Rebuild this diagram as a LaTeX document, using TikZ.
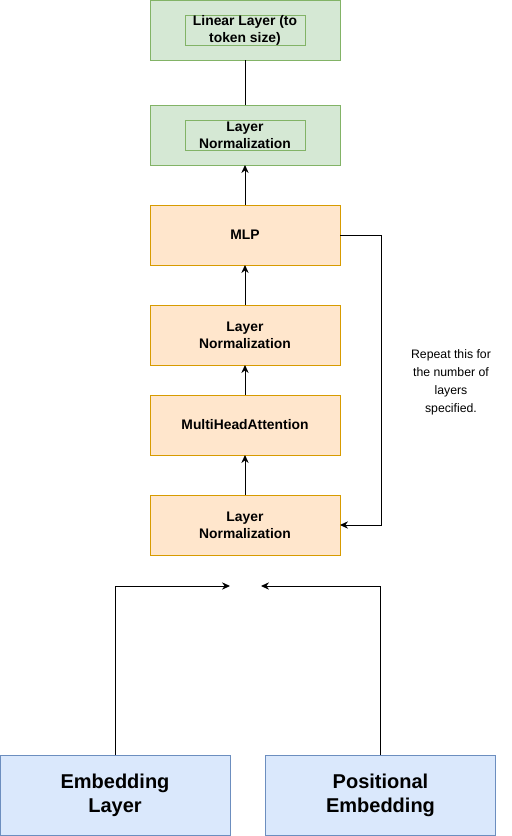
\documentclass[tikz,border=0pt]{standalone}
\usepackage{fontspec}
\setmainfont{Liberation Sans}
\usetikzlibrary{arrows.meta}
\usetikzlibrary{positioning}

\definecolor{greenfill}{HTML}{D5E8D4}
\definecolor{greenline}{HTML}{82B366}
\definecolor{orangefill}{HTML}{FFE6CC}
\definecolor{orangeline}{HTML}{D79B00}
\definecolor{bluefill}{HTML}{DAE8FC}
\definecolor{blueline}{HTML}{6C8EBF}

\tikzset{
    layer/.style={draw, line width=0.75pt, outer sep=0pt, minimum width=142.5pt, minimum height=45pt,
        align=center, font=\bfseries\fontsize{10.4}{12.75}\selectfont},
    orangebox/.style={layer, fill=orangefill, draw=orangeline},
    greenbox/.style={layer, fill=greenfill, draw=greenline},
    innerbox/.style={draw=greenline, line width=0.75pt, minimum width=90pt, minimum height=22.5pt,
        inner sep=0pt, align=center, font=\bfseries\fontsize{10.4}{12.75}\selectfont},
    inputbox/.style={draw=blueline, fill=bluefill, line width=0.75pt, minimum width=172.5pt,
        minimum height=60pt, align=center, font=\bfseries\fontsize{15}{18}\selectfont}
}

\begin{document}
\begin{tikzpicture}[x=0.75pt, y=-0.75pt, line width=0.75pt, node distance=30pt,
    >={Stealth[length=6pt, width=5.5pt]}]

    \useasboundingbox (0,0) rectangle (511,836);

    \node[orangebox] (ln_1) at (245,525) {Layer\\Normalization};
    \node[orangebox] (mha) [above = of ln_1] {MultiHeadAttention};
    \node[orangebox] (ln_2) [above = 22.5pt of mha] {Layer\\Normalization};
    \node[orangebox] (mlp) [above = of ln_2] {MLP};
    \node[greenbox] (ln_3) [above = of mlp] {};
    \node[innerbox] (ln_3_in) at (ln_3) {Layer\\Normalization};
    \node[greenbox] (lin) [above = 33.75pt of ln_3] {};
    \node[innerbox] (lin_in) at (lin) {Linear Layer (to\\token size)};

    \node[inputbox] (emb) at (115,795.5) {Embedding\\Layer};
    \node[inputbox] (pos) at (380.5,795.5) {Positional\\Embedding};

    \coordinate (merge_l) at (230,586);
    \coordinate (merge_r) at (261,586);

    \node[align=center, font=\fontsize{9.2}{13.5}\selectfont] (note) at (451,382)
        {Repeat this for\\the number of\\layers\\specified.};

    \path[->]
        (ln_1) edge (mha)
        (mha) edge (ln_2)
        (ln_2) edge (mlp)
        (mlp) edge (ln_3)
        (ln_3) edge[-] (lin);

    \draw[->] (mlp.east) -- ++(41,0) |- (ln_1.east);
    \draw[->] (emb.north) |- (merge_l);
    \draw[->] (pos.north) |- (merge_r);

\end{tikzpicture}
\end{document}
